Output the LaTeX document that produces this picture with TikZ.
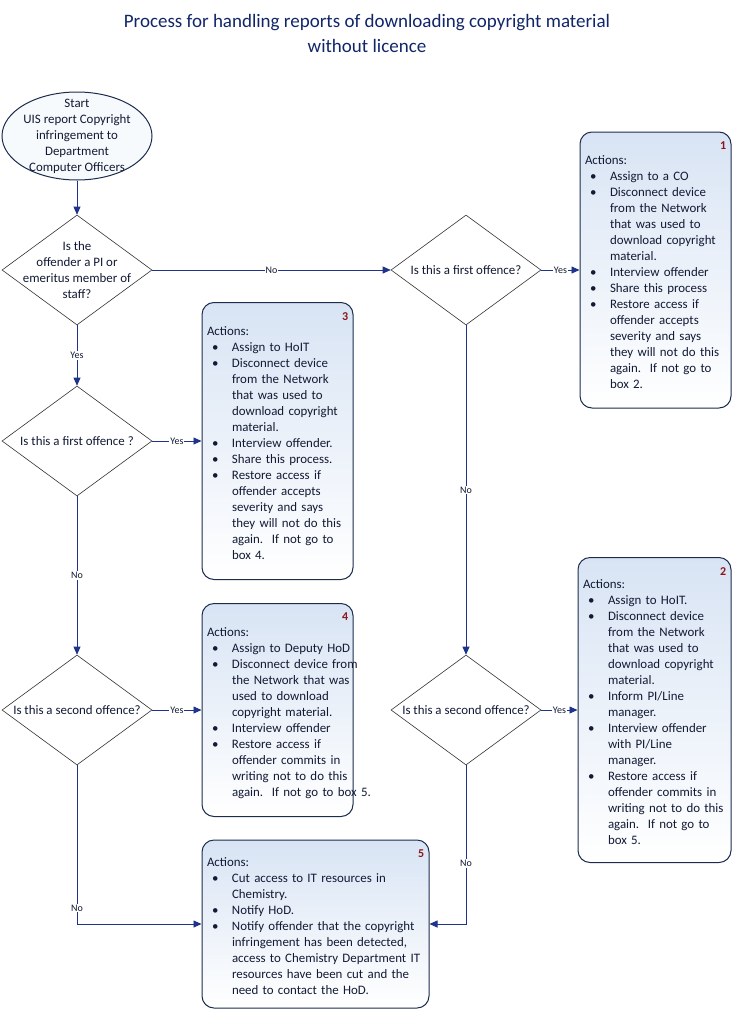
\documentclass[tikz,border=0pt]{standalone}
\usepackage{fontspec}
\setmainfont{Carlito}
\usetikzlibrary{arrows.meta,positioning,calc,shapes.geometric}
\definecolor{TitleNavy}{RGB}{16,38,104}
\definecolor{LinkBlue}{RGB}{30,52,140}
\definecolor{BoxEdge}{RGB}{28,44,78}
\definecolor{BoxTop}{RGB}{216,228,244}
\definecolor{TextInk}{RGB}{18,26,52}
\definecolor{TagRed}{RGB}{140,22,26}
\newcommand{\bodyfont}{\fontsize{12.9pt}{16pt}\selectfont}
% bullet list of actions, lowered a little inside its box
\newcommand{\actlist}[1]{\raisebox{-3.5pt}[\height][\depth]{\begin{tabular}{@{\hspace{5pt}}p{20pt}@{}l@{}}
  \multicolumn{2}{@{}l@{}}{Actions:}\\ #1\end{tabular}}}
\tikzset{
  actbox/.style={draw=BoxEdge, line width=1pt, rounded corners=12pt,
    top color=BoxTop, bottom color=white, text width=#1, align=left,
    inner xsep=5pt, inner ysep=0pt, font=\bodyfont, text=TextInk},
  decision/.style={diamond, draw=black!80, line width=0.6pt, fill=white,
    minimum width=150pt, minimum height=110pt, inner sep=0pt},
  startoval/.style={ellipse, draw=BoxEdge, line width=1pt, fill=BoxTop!20,
    minimum width=150pt, minimum height=88pt, inner sep=0pt},
  qtext/.style={align=center, font=\bodyfont, text=TextInk, inner sep=0pt},
  flowarrow/.style={-{Triangle[length=8pt,width=7pt]}, line width=0.8pt, draw=LinkBlue},
  yesno/.style={font=\fontsize{10pt}{12pt}\selectfont, text=TextInk, fill=white, inner sep=1pt},
  numtag/.style={font=\fontsize{12pt}{14pt}\selectfont\bfseries, text=TagRed, inner sep=1pt, anchor=north east},
  titletext/.style={align=center, font=\fontsize{19pt}{25pt}\selectfont, text=TitleNavy}
}
\begin{document}
\begin{tikzpicture}[x=1pt, y=-1pt]
  \useasboundingbox (0,0) rectangle (733,1012);
  \node[titletext] (title) at (367,33) {Process for handling reports of downloading copyright material\\without licence};

  % start and the questions
  \node[startoval] (start) at (77,136) {};
  \node[qtext] (starttext) at (start.center) {Start\\UIS report Copyright\\infringement to\\Department\\Computer Officers};
  \node[decision] (q1) at (77,270) {};
  \node[qtext] (q1text) at (q1.center) {Is the\\offender a PI or\\emeritus member of\\staff?};
  \node[decision] (q2) at (77,441) {};
  \node[qtext] (q2text) at (q2.center) {Is this a first offence ?};
  \node[decision] (q3) at (77,710) {};
  \node[qtext] (q3text) at (q3.center) {Is this a second offence?};
  \node[decision] (r1) at (466,270) {};
  \node[qtext] (r1text) at (r1.center) {Is this a first offence?};
  \node[decision] (r2) at (466,710) {};
  \node[qtext] (r2text) at (r2.center) {Is this a second offence?};

  % action boxes
  \node[actbox=141pt, minimum height=276pt] (box1) at (655.5,270) {\actlist{
    \textbullet & Assign to a CO\\
    \textbullet & Disconnect device\\
     & from the Network\\
     & that was used to\\
     & download copyright\\
     & material.\\
    \textbullet & Interview offender\\
    \textbullet & Share this process\\
    \textbullet & Restore access if\\
     & offender accepts\\
     & severity and says\\
     & they will not do this\\
     & again.\ \ If not go to\\
     & box 2.}};
  \node[numtag] (tag1) at ($(box1.north east)+(-4,9)$) {1};

  \node[actbox=141pt, minimum height=277pt] (box3) at (277.5,441) {\actlist{
    \textbullet & Assign to HoIT\\
    \textbullet & Disconnect device\\
     & from the Network\\
     & that was used to\\
     & download copyright\\
     & material.\\
    \textbullet & Interview offender.\\
    \textbullet & Share this process.\\
    \textbullet & Restore access if\\
     & offender accepts\\
     & severity and says\\
     & they will not do this\\
     & again.\ \ If not go to\\
     & box 4.}};
  \node[numtag] (tag3) at ($(box3.north east)+(-4,9)$) {3};

  \node[actbox=141pt, minimum height=213pt] (box4) at (277.5,710) {\actlist{
    \textbullet & Assign to Deputy HoD\\
    \textbullet & Disconnect device from\\
     & the Network that was\\
     & used to download\\
     & copyright material.\\
    \textbullet & Interview offender\\
    \textbullet & Restore access if\\
     & offender commits in\\
     & writing not to do this\\
     & again.\ \ If not go to box 5.}};
  \node[numtag] (tag4) at ($(box4.north east)+(-4,9)$) {4};

  \node[actbox=143pt, minimum height=305pt] (box2) at (654.5,710) {\actlist{
    \textbullet & Assign to HoIT.\\
    \textbullet & Disconnect device\\
     & from the Network\\
     & that was used to\\
     & download copyright\\
     & material.\\
    \textbullet & Inform PI/Line\\
     & manager.\\
    \textbullet & Interview offender\\
     & with PI/Line\\
     & manager.\\
    \textbullet & Restore access if\\
     & offender commits in\\
     & writing not to do this\\
     & again.\ \ If not go to\\
     & box 5.}};
  \node[numtag] (tag2) at ($(box2.north east)+(-4,9)$) {2};

  \node[actbox=217pt, minimum height=168pt] (box5) at (315.5,924) {\actlist{
    \textbullet & Cut access to IT resources in\\
     & Chemistry.\\
    \textbullet & Notify HoD.\\
    \textbullet & Notify offender that the copyright\\
     & infringement has been detected,\\
     & access to Chemistry Department IT\\
     & resources have been cut and the\\
     & need to contact the HoD.}};
  \node[numtag] (tag5) at ($(box5.north east)+(-4,9)$) {5};

  % connectors
  \draw[flowarrow] (start) -- (q1);
  \draw[flowarrow] (q1) -- node[yesno]{No} (r1);
  \draw[flowarrow] (q1) -- node[yesno]{Yes} (q2);
  \draw[flowarrow] (q2) -- node[yesno]{Yes} (box3);
  \draw[flowarrow] (q2) -- node[yesno]{No} (q3);
  \draw[flowarrow] (q3) -- node[yesno]{Yes} (box4);
  \draw[flowarrow] (q3.south) |- node[yesno, pos=0.45]{No} (box5.west);
  \draw[flowarrow] (r1) -- node[yesno]{Yes} (box1);
  \draw[flowarrow] (r1) -- node[yesno]{No} (r2);
  \draw[flowarrow] (r2) -- node[yesno]{Yes} (box2);
  \draw[flowarrow] (r2.south) |- node[yesno, pos=0.31]{No} (box5.east);
\end{tikzpicture}
\end{document}
